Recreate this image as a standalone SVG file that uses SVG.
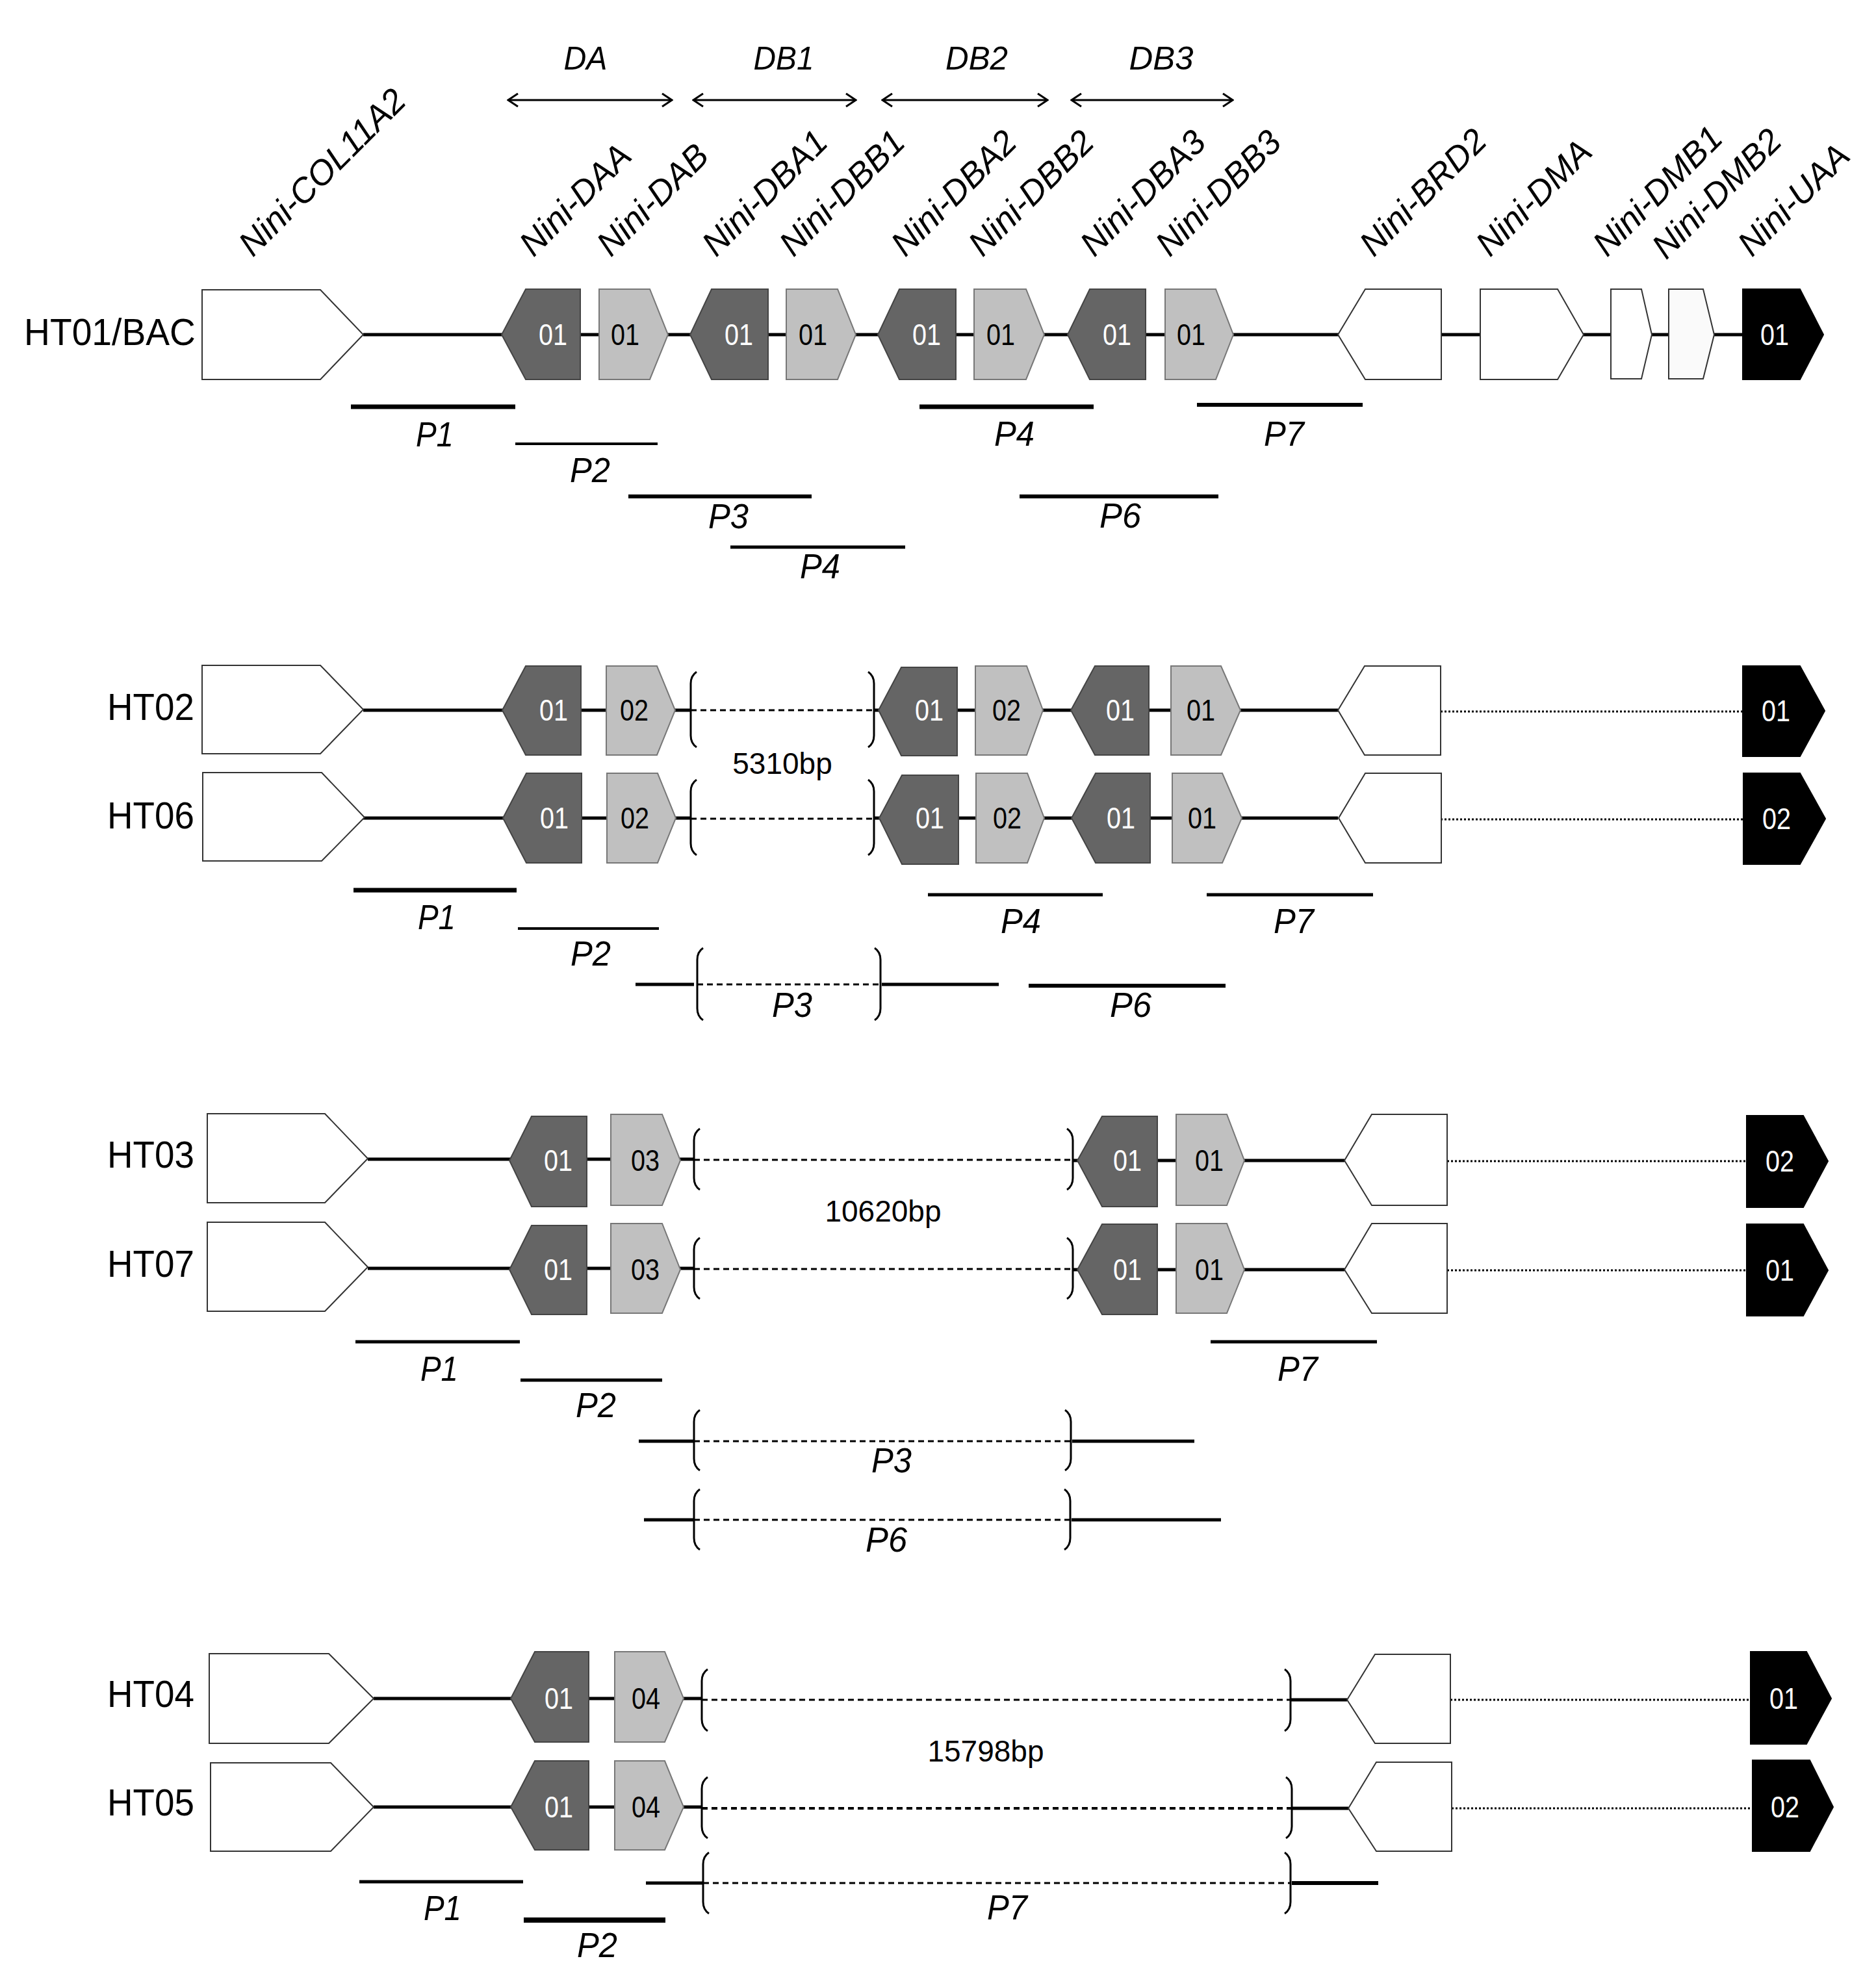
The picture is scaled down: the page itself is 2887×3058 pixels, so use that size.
<svg xmlns="http://www.w3.org/2000/svg" width="2887" height="3058" viewBox="0 0 2887 3058">
<style>
.ln{stroke:#000;stroke-width:5;fill:none}
.dash{stroke:#000;stroke-width:3;stroke-dasharray:9 6;fill:none}
.dot{stroke:#000;stroke-width:3;stroke-dasharray:3 3;fill:none}
.br{stroke:#000;stroke-width:3;fill:none}
.pr{stroke:#000;stroke-width:6}
.pt{stroke:#000;stroke-width:4}
.ptk{stroke:#000;stroke-width:8}
.wh{fill:#fff;stroke:#333;stroke-width:2}
.dk{fill:#656565;stroke:#444;stroke-width:2}
.lt{fill:#c0c0c0;stroke:#777;stroke-width:2}
.bk{fill:#000;stroke:#000;stroke-width:2}
.num{font-family:"Liberation Sans",Arial,sans-serif;font-size:47px;text-anchor:middle}
.nw{fill:#fff}
.nb{fill:#000}
.row{font-family:"Liberation Sans",Arial,sans-serif;font-size:58px;fill:#000}
.gl{font-family:"Liberation Sans",Arial,sans-serif;font-style:italic;font-size:53px;fill:#000}
.pl{font-family:"Liberation Sans",Arial,sans-serif;font-style:italic;font-size:54px;fill:#000}
.dl{font-family:"Liberation Sans",Arial,sans-serif;font-style:italic;font-size:50px;text-anchor:middle;fill:#000}
.bp{font-family:"Liberation Sans",Arial,sans-serif;font-size:46px;text-anchor:middle;fill:#000}
.arr{stroke:#000;stroke-width:3;fill:none}
</style>
<defs>
<marker id="ah" viewBox="0 0 20 22" refX="18" refY="11" markerWidth="20" markerHeight="22" markerUnits="userSpaceOnUse" orient="auto-start-reverse">
<path d="M3,1 L18,11 L3,21" fill="none" stroke="#000" stroke-width="3"/>
</marker>
</defs>
<rect width="2887" height="3058" fill="#fff"/>

<g id="regions">
<line class="arr" x1="782" y1="154" x2="1034" y2="154" marker-start="url(#ah)" marker-end="url(#ah)"/>
<line class="arr" x1="1067" y1="154" x2="1317" y2="154" marker-start="url(#ah)" marker-end="url(#ah)"/>
<line class="arr" x1="1358" y1="154" x2="1612" y2="154" marker-start="url(#ah)" marker-end="url(#ah)"/>
<line class="arr" x1="1649" y1="154" x2="1897" y2="154" marker-start="url(#ah)" marker-end="url(#ah)"/>
<text class="dl" x="901" y="107" textLength="67" lengthAdjust="spacingAndGlyphs">DA</text>
<text class="dl" x="1206" y="107" textLength="93" lengthAdjust="spacingAndGlyphs">DB1</text>
<text class="dl" x="1503" y="107" textLength="96" lengthAdjust="spacingAndGlyphs">DB2</text>
<text class="dl" x="1787" y="107" textLength="99" lengthAdjust="spacingAndGlyphs">DB3</text>
</g>

<g id="gene-labels">
<text class="gl" x="389" y="397" transform="rotate(-45 389 397)">Nini-COL11A2</text>
<text class="gl" x="821" y="397" transform="rotate(-45 821 397)">Nini-DAA</text>
<text class="gl" x="940" y="397" transform="rotate(-45 940 397)">Nini-DAB</text>
<text class="gl" x="1102" y="397" transform="rotate(-45 1102 397)">Nini-DBA1</text>
<text class="gl" x="1221" y="397" transform="rotate(-45 1221 397)">Nini-DBB1</text>
<text class="gl" x="1393" y="397" transform="rotate(-45 1393 397)">Nini-DBA2</text>
<text class="gl" x="1512" y="397" transform="rotate(-45 1512 397)">Nini-DBB2</text>
<text class="gl" x="1684" y="397" transform="rotate(-45 1684 397)">Nini-DBA3</text>
<text class="gl" x="1800" y="397" transform="rotate(-45 1800 397)">Nini-DBB3</text>
<text class="gl" x="2114" y="397" transform="rotate(-45 2114 397)">Nini-BRD2</text>
<text class="gl" x="2293" y="397" transform="rotate(-45 2293 397)">Nini-DMA</text>
<text class="gl" x="2473" y="397" transform="rotate(-45 2473 397)">Nini-DMB1</text>
<text class="gl" x="2564" y="401" transform="rotate(-45 2564 401)">Nini-DMB2</text>
<text class="gl" x="2696" y="397" transform="rotate(-45 2696 397)">Nini-UAA</text>
</g>

<g id="connectors">
<line class="ln" x1="559" y1="515" x2="2682" y2="515"/>
<line class="ln" x1="559" y1="1093" x2="1063" y2="1093"/>
<path class="br" d="M1072,1034 Q1063,1040 1063,1052 L1063,1132 Q1063,1144 1072,1150"/>
<line class="dash" x1="1063" y1="1093" x2="1345" y2="1093"/>
<path class="br" d="M1336,1034 Q1345,1040 1345,1052 L1345,1132 Q1345,1144 1336,1150"/>
<line class="ln" x1="1345" y1="1093" x2="2059" y2="1093"/>
<line class="dot" x1="2217" y1="1095" x2="2682" y2="1095"/>
<line class="ln" x1="559" y1="1259" x2="1063" y2="1259"/>
<path class="br" d="M1072,1200 Q1063,1206 1063,1218 L1063,1298 Q1063,1310 1072,1316"/>
<line class="dash" x1="1063" y1="1260" x2="1345" y2="1260"/>
<path class="br" d="M1336,1200 Q1345,1206 1345,1218 L1345,1298 Q1345,1310 1336,1316"/>
<line class="ln" x1="1345" y1="1259" x2="2059" y2="1259"/>
<line class="dot" x1="2217" y1="1261" x2="2682" y2="1261"/>
<line class="ln" x1="566" y1="1784" x2="1068" y2="1784"/>
<path class="br" d="M1077,1737 Q1068,1743 1068,1755 L1068,1813 Q1068,1825 1077,1831"/>
<line class="dash" x1="1068" y1="1785" x2="1651" y2="1785"/>
<path class="br" d="M1642,1737 Q1651,1743 1651,1755 L1651,1813 Q1651,1825 1642,1831"/>
<line class="ln" x1="1651" y1="1786" x2="2069" y2="1786"/>
<line class="dot" x1="2227" y1="1787" x2="2688" y2="1787"/>
<line class="ln" x1="566" y1="1952" x2="1068" y2="1952"/>
<path class="br" d="M1077,1905 Q1068,1911 1068,1923 L1068,1981 Q1068,1993 1077,1999"/>
<line class="dash" x1="1068" y1="1953" x2="1651" y2="1953"/>
<path class="br" d="M1642,1905 Q1651,1911 1651,1923 L1651,1981 Q1651,1993 1642,1999"/>
<line class="ln" x1="1651" y1="1954" x2="2069" y2="1954"/>
<line class="dot" x1="2227" y1="1955" x2="2688" y2="1955"/>
<line class="ln" x1="575" y1="2614" x2="1080" y2="2614"/>
<path class="br" d="M1089,2569 Q1080,2575 1080,2587 L1080,2646 Q1080,2658 1089,2664"/>
<line class="dash" x1="1080" y1="2616" x2="1986" y2="2616"/>
<path class="br" d="M1977,2569 Q1986,2575 1986,2587 L1986,2646 Q1986,2658 1977,2664"/>
<line class="ln" x1="1986" y1="2616" x2="2073" y2="2616"/>
<line class="dot" x1="2232" y1="2616" x2="2694" y2="2616"/>
<line class="ln" x1="575" y1="2781" x2="1080" y2="2781"/>
<path class="br" d="M1089,2735 Q1080,2741 1080,2753 L1080,2811 Q1080,2823 1089,2829"/>
<line class="dash" x1="1080" y1="2783" x2="1988" y2="2783" style="stroke-width:4"/>
<path class="br" d="M1979,2735 Q1988,2741 1988,2753 L1988,2811 Q1988,2823 1979,2829"/>
<line class="ln" x1="1988" y1="2783" x2="2075" y2="2783"/>
<line class="dot" x1="2234" y1="2783" x2="2697" y2="2783"/>
</g>

<g id="row-labels">
<text class="row" x="37" y="531" textLength="264" lengthAdjust="spacingAndGlyphs">HT01/BAC</text>
<text class="row" x="165" y="1108" textLength="134" lengthAdjust="spacingAndGlyphs">HT02</text>
<text class="row" x="165" y="1275" textLength="134" lengthAdjust="spacingAndGlyphs">HT06</text>
<text class="row" x="165" y="1797" textLength="134" lengthAdjust="spacingAndGlyphs">HT03</text>
<text class="row" x="165" y="1965" textLength="134" lengthAdjust="spacingAndGlyphs">HT07</text>
<text class="row" x="165" y="2627" textLength="134" lengthAdjust="spacingAndGlyphs">HT04</text>
<text class="row" x="165" y="2794" textLength="134" lengthAdjust="spacingAndGlyphs">HT05</text>
</g>

<g id="ht01-col11a2"><polygon class="wh" points="311,446 493,446 559,515 493,584 311,584"/></g>
<g id="ht01-daa"><polygon class="dk" points="772,515 809,445 893,445 893,584 809,584"/><text class="num nw" x="851" y="531" textLength="44" lengthAdjust="spacingAndGlyphs">01</text></g>
<g id="ht01-dab"><polygon class="lt" points="922,445 1000,445 1028,515 1000,584 922,584"/><text class="num nb" x="962" y="531" textLength="44" lengthAdjust="spacingAndGlyphs">01</text></g>
<g id="ht01-dba1"><polygon class="dk" points="1062,515 1095,445 1182,445 1182,584 1095,584"/><text class="num nw" x="1137" y="531" textLength="44" lengthAdjust="spacingAndGlyphs">01</text></g>
<g id="ht01-dbb1"><polygon class="lt" points="1210,445 1289,445 1317,515 1289,584 1210,584"/><text class="num nb" x="1251" y="531" textLength="44" lengthAdjust="spacingAndGlyphs">01</text></g>
<g id="ht01-dba2"><polygon class="dk" points="1351,515 1384,445 1471,445 1471,584 1384,584"/><text class="num nw" x="1426" y="531" textLength="44" lengthAdjust="spacingAndGlyphs">01</text></g>
<g id="ht01-dbb2"><polygon class="lt" points="1499,445 1579,445 1607,515 1579,584 1499,584"/><text class="num nb" x="1540" y="531" textLength="44" lengthAdjust="spacingAndGlyphs">01</text></g>
<g id="ht01-dba3"><polygon class="dk" points="1643,515 1677,445 1763,445 1763,584 1677,584"/><text class="num nw" x="1719" y="531" textLength="44" lengthAdjust="spacingAndGlyphs">01</text></g>
<g id="ht01-dbb3"><polygon class="lt" points="1793,445 1871,445 1898,515 1871,584 1793,584"/><text class="num nb" x="1833" y="531" textLength="44" lengthAdjust="spacingAndGlyphs">01</text></g>
<g id="ht01-brd2"><polygon class="wh" points="2059,515 2101,445 2218,445 2218,584 2101,584"/></g>
<g id="ht01-dma"><polygon class="wh" points="2278,445 2397,445 2437,515 2397,584 2278,584"/></g>
<g id="ht01-dmb1"><polygon class="wh" points="2479,445 2526,445 2542,515 2526,583 2479,583"/></g>
<g id="ht01-dmb2"><polygon class="wh" points="2568,445 2621,445 2638,515 2621,583 2568,583" style="fill:#fafafa"/></g>
<g id="ht01-uaa"><polygon class="bk" points="2682,445 2770,445 2806,515 2770,584 2682,584"/><text class="num nw" x="2731" y="531" textLength="44" lengthAdjust="spacingAndGlyphs">01</text></g>

<g id="ht02-col11a2"><polygon class="wh" points="311,1024 493,1024 559,1092 493,1160 311,1160"/></g>
<g id="ht02-daa"><polygon class="dk" points="773,1093 809,1025 894,1025 894,1162 809,1162"/><text class="num nw" x="852" y="1109" textLength="44" lengthAdjust="spacingAndGlyphs">01</text></g>
<g id="ht02-dab"><polygon class="lt" points="933,1025 1011,1025 1039,1093 1011,1162 933,1162"/><text class="num nb" x="976" y="1109" textLength="44" lengthAdjust="spacingAndGlyphs">02</text></g>
<g id="ht02-dba2"><polygon class="dk" points="1352,1093 1387,1027 1473,1027 1473,1163 1387,1163"/><text class="num nw" x="1430" y="1109" textLength="44" lengthAdjust="spacingAndGlyphs">01</text></g>
<g id="ht02-dbb2"><polygon class="lt" points="1501,1025 1580,1025 1605,1093 1580,1162 1501,1162"/><text class="num nb" x="1549" y="1109" textLength="44" lengthAdjust="spacingAndGlyphs">02</text></g>
<g id="ht02-dba3"><polygon class="dk" points="1648,1093 1685,1025 1768,1025 1768,1162 1685,1162"/><text class="num nw" x="1724" y="1109" textLength="44" lengthAdjust="spacingAndGlyphs">01</text></g>
<g id="ht02-dbb3"><polygon class="lt" points="1802,1025 1879,1025 1909,1093 1879,1162 1802,1162"/><text class="num nb" x="1848" y="1109" textLength="44" lengthAdjust="spacingAndGlyphs">01</text></g>
<g id="ht02-brd2"><polygon class="wh" points="2059,1093 2100,1025 2217,1025 2217,1162 2100,1162"/></g>
<g id="ht02-uaa"><polygon class="bk" points="2682,1025 2770,1025 2808,1094 2770,1164 2682,1164"/><text class="num nw" x="2733" y="1110" textLength="44" lengthAdjust="spacingAndGlyphs">01</text></g>

<g id="ht06-col11a2"><polygon class="wh" points="312,1189 495,1189 561,1258 495,1325 312,1325"/></g>
<g id="ht06-daa"><polygon class="dk" points="774,1259 810,1190 895,1190 895,1328 810,1328"/><text class="num nw" x="853" y="1275" textLength="44" lengthAdjust="spacingAndGlyphs">01</text></g>
<g id="ht06-dab"><polygon class="lt" points="934,1190 1012,1190 1040,1259 1012,1328 934,1328"/><text class="num nb" x="977" y="1275" textLength="44" lengthAdjust="spacingAndGlyphs">02</text></g>
<g id="ht06-dba2"><polygon class="dk" points="1353,1259 1388,1193 1475,1193 1475,1330 1388,1330"/><text class="num nw" x="1431" y="1275" textLength="44" lengthAdjust="spacingAndGlyphs">01</text></g>
<g id="ht06-dbb2"><polygon class="lt" points="1502,1190 1581,1190 1607,1259 1581,1328 1502,1328"/><text class="num nb" x="1550" y="1275" textLength="44" lengthAdjust="spacingAndGlyphs">02</text></g>
<g id="ht06-dba3"><polygon class="dk" points="1649,1259 1686,1190 1770,1190 1770,1328 1686,1328"/><text class="num nw" x="1725" y="1275" textLength="44" lengthAdjust="spacingAndGlyphs">01</text></g>
<g id="ht06-dbb3"><polygon class="lt" points="1804,1190 1881,1190 1911,1259 1881,1328 1804,1328"/><text class="num nb" x="1850" y="1275" textLength="44" lengthAdjust="spacingAndGlyphs">01</text></g>
<g id="ht06-brd2"><polygon class="wh" points="2060,1259 2101,1190 2218,1190 2218,1328 2101,1328"/></g>
<g id="ht06-uaa"><polygon class="bk" points="2683,1190 2770,1190 2809,1260 2770,1330 2683,1330"/><text class="num nw" x="2734" y="1276" textLength="44" lengthAdjust="spacingAndGlyphs">02</text></g>

<g id="ht03-col11a2"><polygon class="wh" points="319,1714 500,1714 566,1783 500,1851 319,1851"/></g>
<g id="ht03-daa"><polygon class="dk" points="784,1786 818,1718 903,1718 903,1857 818,1857"/><text class="num nw" x="859" y="1802" textLength="44" lengthAdjust="spacingAndGlyphs">01</text></g>
<g id="ht03-dab"><polygon class="lt" points="940,1715 1019,1715 1047,1786 1019,1855 940,1855"/><text class="num nb" x="993" y="1802" textLength="44" lengthAdjust="spacingAndGlyphs">03</text></g>
<g id="ht03-dba"><polygon class="dk" points="1658,1786 1696,1718 1781,1718 1781,1857 1696,1857"/><text class="num nw" x="1735" y="1802" textLength="44" lengthAdjust="spacingAndGlyphs">01</text></g>
<g id="ht03-dbb"><polygon class="lt" points="1810,1715 1888,1715 1915,1786 1888,1855 1810,1855"/><text class="num nb" x="1861" y="1802" textLength="44" lengthAdjust="spacingAndGlyphs">01</text></g>
<g id="ht03-brd2"><polygon class="wh" points="2069,1786 2111,1715 2227,1715 2227,1855 2111,1855"/></g>
<g id="ht03-uaa"><polygon class="bk" points="2688,1717 2775,1717 2813,1787 2775,1858 2688,1858"/><text class="num nw" x="2739" y="1803" textLength="44" lengthAdjust="spacingAndGlyphs">02</text></g>

<g id="ht07-col11a2"><polygon class="wh" points="319,1881 500,1881 566,1950 500,2018 319,2018"/></g>
<g id="ht07-daa"><polygon class="dk" points="784,1954 818,1886 903,1886 903,2023 818,2023"/><text class="num nw" x="859" y="1970" textLength="44" lengthAdjust="spacingAndGlyphs">01</text></g>
<g id="ht07-dab"><polygon class="lt" points="940,1883 1019,1883 1047,1954 1019,2021 940,2021"/><text class="num nb" x="993" y="1970" textLength="44" lengthAdjust="spacingAndGlyphs">03</text></g>
<g id="ht07-dba"><polygon class="dk" points="1658,1954 1696,1884 1781,1884 1781,2023 1696,2023"/><text class="num nw" x="1735" y="1970" textLength="44" lengthAdjust="spacingAndGlyphs">01</text></g>
<g id="ht07-dbb"><polygon class="lt" points="1810,1883 1888,1883 1915,1954 1888,2021 1810,2021"/><text class="num nb" x="1861" y="1970" textLength="44" lengthAdjust="spacingAndGlyphs">01</text></g>
<g id="ht07-brd2"><polygon class="wh" points="2069,1954 2111,1883 2227,1883 2227,2021 2111,2021"/></g>
<g id="ht07-uaa"><polygon class="bk" points="2688,1884 2775,1884 2813,1955 2775,2025 2688,2025"/><text class="num nw" x="2739" y="1971" textLength="44" lengthAdjust="spacingAndGlyphs">01</text></g>

<g id="ht04-col11a2"><polygon class="wh" points="322,2545 506,2545 575,2614 506,2683 322,2683"/></g>
<g id="ht04-daa"><polygon class="dk" points="786,2614 823,2542 906,2542 906,2681 823,2681"/><text class="num nw" x="860" y="2630" textLength="44" lengthAdjust="spacingAndGlyphs">01</text></g>
<g id="ht04-dab"><polygon class="lt" points="946,2542 1023,2542 1052,2614 1023,2681 946,2681"/><text class="num nb" x="994" y="2630" textLength="44" lengthAdjust="spacingAndGlyphs">04</text></g>
<g id="ht04-brd2"><polygon class="wh" points="2073,2616 2116,2546 2232,2546 2232,2683 2116,2683"/></g>
<g id="ht04-uaa"><polygon class="bk" points="2694,2542 2780,2542 2818,2614 2780,2684 2694,2684"/><text class="num nw" x="2745" y="2630" textLength="44" lengthAdjust="spacingAndGlyphs">01</text></g>

<g id="ht05-col11a2"><polygon class="wh" points="324,2713 509,2713 575,2781 509,2849 324,2849"/></g>
<g id="ht05-daa"><polygon class="dk" points="786,2781 823,2710 906,2710 906,2847 823,2847"/><text class="num nw" x="860" y="2797" textLength="44" lengthAdjust="spacingAndGlyphs">01</text></g>
<g id="ht05-dab"><polygon class="lt" points="946,2710 1023,2710 1052,2781 1023,2847 946,2847"/><text class="num nb" x="994" y="2797" textLength="44" lengthAdjust="spacingAndGlyphs">04</text></g>
<g id="ht05-brd2"><polygon class="wh" points="2075,2783 2118,2712 2234,2712 2234,2849 2118,2849"/></g>
<g id="ht05-uaa"><polygon class="bk" points="2697,2709 2785,2709 2821,2781 2785,2849 2697,2849"/><text class="num nw" x="2747" y="2797" textLength="44" lengthAdjust="spacingAndGlyphs">02</text></g>

<g id="gap-labels">
<text class="bp" x="1204" y="1191">5310bp</text>
<text class="bp" x="1359" y="1880">10620bp</text>
<text class="bp" x="1517" y="2711">15798bp</text>
</g>

<g id="probes-ht01">
<line class="pr" x1="540" y1="626" x2="793" y2="626" style="stroke-width:7"/>
<text class="pl" x="640" y="687" textLength="58" lengthAdjust="spacingAndGlyphs">P1</text>
<line class="pt" x1="793" y1="683" x2="1012" y2="683"/>
<text class="pl" x="877" y="742" textLength="62" lengthAdjust="spacingAndGlyphs">P2</text>
<line class="pr" x1="967" y1="764" x2="1249" y2="764"/>
<text class="pl" x="1090" y="813" textLength="62" lengthAdjust="spacingAndGlyphs">P3</text>
<line class="pr" x1="1124" y1="842" x2="1393" y2="842" style="stroke-width:5"/>
<text class="pl" x="1231" y="890" textLength="62" lengthAdjust="spacingAndGlyphs">P4</text>
<line class="pr" x1="1415" y1="626" x2="1683" y2="626" style="stroke-width:7"/>
<text class="pl" x="1530" y="686" textLength="62" lengthAdjust="spacingAndGlyphs">P4</text>
<line class="pr" x1="1842" y1="623" x2="2097" y2="623"/>
<text class="pl" x="1945" y="686" textLength="62" lengthAdjust="spacingAndGlyphs">P7</text>
<line class="pr" x1="1569" y1="764" x2="1875" y2="764"/>
<text class="pl" x="1692" y="812" textLength="64" lengthAdjust="spacingAndGlyphs">P6</text>
</g>

<g id="probes-ht02-ht06">
<line class="pr" x1="544" y1="1370" x2="795" y2="1370" style="stroke-width:7"/>
<text class="pl" x="643" y="1430" textLength="58" lengthAdjust="spacingAndGlyphs">P1</text>
<line class="pt" x1="797" y1="1429" x2="1014" y2="1429"/>
<text class="pl" x="878" y="1486" textLength="62" lengthAdjust="spacingAndGlyphs">P2</text>
<line class="pr" x1="978" y1="1515" x2="1068" y2="1515" style="stroke-width:5"/>
<path class="br" d="M1082,1459 Q1073,1465 1073,1477 L1073,1552 Q1073,1564 1082,1570"/>
<line class="dash" x1="1073" y1="1515" x2="1355" y2="1515"/>
<path class="br" d="M1346,1459 Q1355,1465 1355,1477 L1355,1552 Q1355,1564 1346,1570"/>
<line class="pr" x1="1357" y1="1515" x2="1537" y2="1515" style="stroke-width:5"/>
<text class="pl" x="1188" y="1565" textLength="62" lengthAdjust="spacingAndGlyphs">P3</text>
<line class="pr" x1="1428" y1="1377" x2="1697" y2="1377" style="stroke-width:5"/>
<text class="pl" x="1540" y="1436" textLength="62" lengthAdjust="spacingAndGlyphs">P4</text>
<line class="pr" x1="1857" y1="1377" x2="2113" y2="1377" style="stroke-width:5"/>
<text class="pl" x="1960" y="1436" textLength="62" lengthAdjust="spacingAndGlyphs">P7</text>
<line class="pr" x1="1583" y1="1517" x2="1886" y2="1517"/>
<text class="pl" x="1708" y="1565" textLength="64" lengthAdjust="spacingAndGlyphs">P6</text>
</g>

<g id="probes-ht03-ht07">
<line class="pr" x1="547" y1="2065" x2="800" y2="2065" style="stroke-width:5"/>
<text class="pl" x="647" y="2125" textLength="58" lengthAdjust="spacingAndGlyphs">P1</text>
<line class="pr" x1="801" y1="2124" x2="1019" y2="2124" style="stroke-width:5"/>
<text class="pl" x="886" y="2181" textLength="62" lengthAdjust="spacingAndGlyphs">P2</text>
<line class="pr" x1="1863" y1="2065" x2="2119" y2="2065" style="stroke-width:5"/>
<text class="pl" x="1966" y="2125" textLength="62" lengthAdjust="spacingAndGlyphs">P7</text>
<line class="pr" x1="983" y1="2218" x2="1068" y2="2218" style="stroke-width:5"/>
<path class="br" d="M1077,2170 Q1068,2176 1068,2188 L1068,2245 Q1068,2257 1077,2263"/>
<line class="dash" x1="1068" y1="2218" x2="1648" y2="2218"/>
<path class="br" d="M1639,2170 Q1648,2176 1648,2188 L1648,2245 Q1648,2257 1639,2263"/>
<line class="pr" x1="1650" y1="2218" x2="1838" y2="2218" style="stroke-width:5"/>
<text class="pl" x="1341" y="2266" textLength="62" lengthAdjust="spacingAndGlyphs">P3</text>
<line class="pr" x1="991" y1="2339" x2="1068" y2="2339" style="stroke-width:5"/>
<path class="br" d="M1077,2292 Q1068,2298 1068,2310 L1068,2367 Q1068,2379 1077,2385"/>
<line class="dash" x1="1068" y1="2339" x2="1647" y2="2339"/>
<path class="br" d="M1638,2292 Q1647,2298 1647,2310 L1647,2367 Q1647,2379 1638,2385"/>
<line class="pr" x1="1649" y1="2339" x2="1879" y2="2339" style="stroke-width:5"/>
<text class="pl" x="1332" y="2388" textLength="64" lengthAdjust="spacingAndGlyphs">P6</text>
</g>

<g id="probes-ht04-ht05">
<line class="pr" x1="553" y1="2896" x2="805" y2="2896" style="stroke-width:5"/>
<text class="pl" x="652" y="2955" textLength="58" lengthAdjust="spacingAndGlyphs">P1</text>
<line class="ptk" x1="806" y1="2955" x2="1024" y2="2955"/>
<text class="pl" x="888" y="3012" textLength="62" lengthAdjust="spacingAndGlyphs">P2</text>
<line class="pr" x1="994" y1="2898" x2="1082" y2="2898" style="stroke-width:5"/>
<path class="br" d="M1091,2851 Q1082,2857 1082,2869 L1082,2927 Q1082,2939 1091,2945"/>
<line class="dash" x1="1082" y1="2898" x2="1986" y2="2898"/>
<path class="br" d="M1977,2851 Q1986,2857 1986,2869 L1986,2927 Q1986,2939 1977,2945"/>
<line class="pr" x1="1988" y1="2898" x2="2121" y2="2898"/>
<text class="pl" x="1519" y="2954" textLength="62" lengthAdjust="spacingAndGlyphs">P7</text>
</g>
</svg>
